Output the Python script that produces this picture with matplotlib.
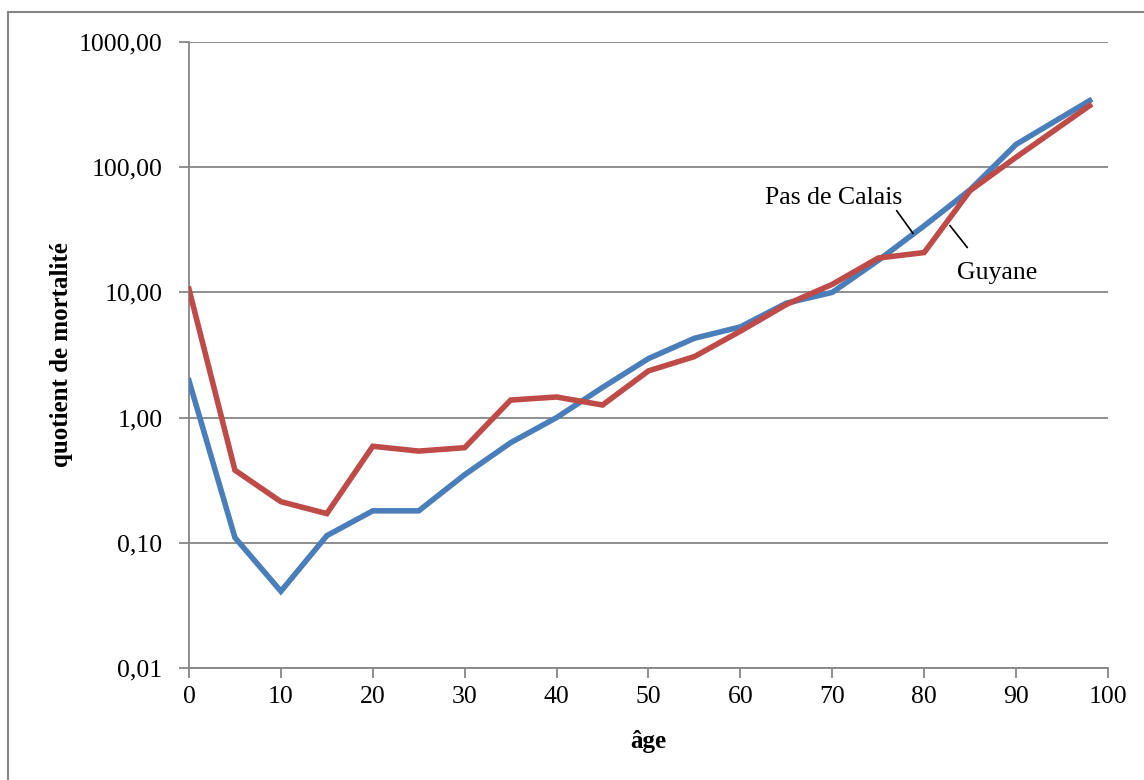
import matplotlib.pyplot as plt
from matplotlib.patches import Rectangle
from matplotlib.ticker import FixedLocator, NullLocator

plt.rcParams['font.family'] = ['Liberation Serif', 'DejaVu Serif']

# quotients de mortalité par âge
ages = [0, 5, 10, 15, 20, 25, 30, 35, 40, 45, 50, 55, 60, 65, 70, 75, 80, 85, 90, 98]
pas_de_calais = [1.97, 0.11, 0.041, 0.114, 0.18, 0.18, 0.35, 0.63, 1.0, 1.74,
                 2.96, 4.3, 5.3, 8.2, 10.0, 18.0, 34.0, 66.0, 152.0, 340.0]
guyane = [10.6, 0.38, 0.213, 0.171, 0.59, 0.54, 0.575, 1.38, 1.46, 1.26,
          2.36, 3.07, 4.9, 8.0, 11.6, 18.8, 20.8, 65.0, 120.0, 310.0]

y_ticks = [0.01, 0.1, 1, 10, 100, 1000]
y_labels = ['0,01', '0,10', '1,00', '10,00', '100,00', '1000,00']
x_ticks = list(range(0, 101, 10))

blue = '#4A7EBB'
red = '#BE4B48'
grey = '#868686'

fig = plt.figure(figsize=(11.44, 7.8), dpi=100)
ax = fig.add_axes([0.1652, 0.1436, 0.9685 - 0.1652, 0.9462 - 0.1436])

# cadre autour du graphique
fig.patches.append(Rectangle((8 / 1144, -0.05), 1.1, 1.05 - 12 / 780,
                             transform=fig.transFigure, fill=False,
                             edgecolor=grey, linewidth=1.5, zorder=0))

ax.plot(ages, pas_de_calais, color=blue, linewidth=4, solid_joinstyle='miter', zorder=3)
ax.plot(ages, guyane, color=red, linewidth=4, solid_joinstyle='miter', zorder=3)

ax.set_yscale('log')
ax.set_ylim(0.01, 1000)
ax.set_xlim(0, 100)
ax.yaxis.set_major_locator(FixedLocator(y_ticks))
ax.yaxis.set_minor_locator(NullLocator())
ax.set_yticklabels(y_labels)
ax.set_xticks(x_ticks)

ax.grid(axis='y', color=grey, linewidth=1.3)
ax.set_axisbelow(True)
for side in ['top', 'right']:
    ax.spines[side].set_visible(False)
for side in ['left', 'bottom']:
    ax.spines[side].set_color(grey)
    ax.spines[side].set_linewidth(1.3)

ax.tick_params(axis='both', colors=grey, labelcolor='black', labelsize=18.5,
               length=7, width=1.3)
ax.tick_params(axis='y', pad=12)
ax.tick_params(axis='x', pad=6)

ax.set_xlabel('âge', fontsize=18, fontweight='bold', labelpad=16)
ax.set_ylabel('quotient de mortalité', fontsize=18, fontweight='bold', labelpad=4)

# étiquettes des courbes
ax.text(70.2, 57, 'Pas de Calais', fontsize=18.5, ha='center', va='center')
ax.annotate('', xy=(78.8, 29.5), xytext=(77.0, 45),
            arrowprops=dict(arrowstyle='-', color='black', linewidth=1.2,
                            shrinkA=0, shrinkB=0))
ax.text(87.9, 14.4, 'Guyane', fontsize=18.5, ha='center', va='center')
ax.annotate('', xy=(84.7, 22.8), xytext=(82.8, 34.2),
            arrowprops=dict(arrowstyle='-', color='black', linewidth=1.2,
                            shrinkA=0, shrinkB=0))

fig.savefig('out.png', dpi=100)
